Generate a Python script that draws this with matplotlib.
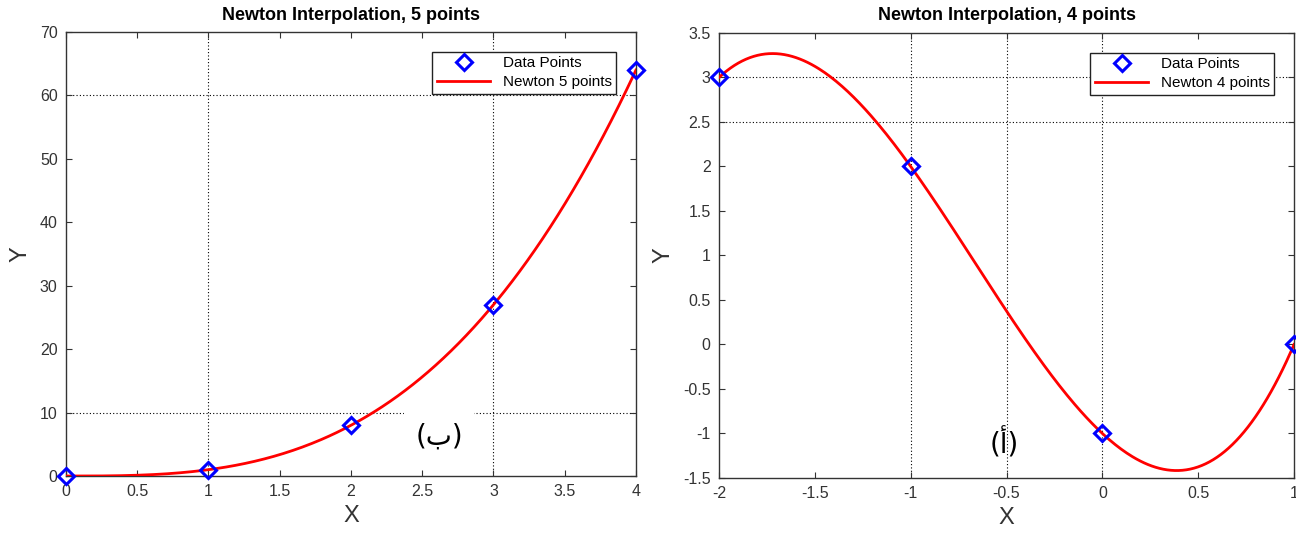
import numpy as np
import matplotlib
matplotlib.use('Agg')
import matplotlib.pyplot as plt

plt.rcParams['font.family'] = ['Liberation Sans', 'DejaVu Sans']

# data points of both panels
x5 = [0, 1, 2, 3, 4]
y5 = [0, 1, 8, 27, 64]
x4 = [-2, -1, 0, 1]
y4 = [3, 2, -1, 0]

# dotted grid lines that are visible in the picture
vgrid5 = [1, 3]
hgrid5 = [10, 60]
vgrid4 = [-1, -0.5, 0]
hgrid4 = [2.5, 3]


def newton_coef(x, y):
    x = np.asarray(x, float)
    c = np.asarray(y, float).copy()
    n = len(x)
    for j in range(1, n):
        c[j:] = (c[j:] - c[j - 1:-1]) / (x[j:] - x[:n - j])
    return c


def newton_eval(c, x, t):
    p = np.full_like(t, c[-1])
    for k in range(len(c) - 2, -1, -1):
        p = p * (t - x[k]) + c[k]
    return p


def panel(ax, xs, ys, vg, hg, title, lbl, xlim, ylim, xticks, yticks, note, note_xy, note_pad):
    t = np.linspace(xs[0], xs[-1], 300)
    c = newton_coef(xs, ys)
    for v in vg:
        ax.axvline(v, color='k', ls=(0, (1, 2)), lw=0.8, zorder=1)
    for h in hg:
        ax.axhline(h, color='k', ls=(0, (1, 2)), lw=0.8, zorder=1)
    ax.plot(xs, ys, 'D', mfc='none', mec='#0000ff', mew=2.2, ms=8, label='Data Points', zorder=4, clip_on=False)
    ax.plot(t, newton_eval(c, np.asarray(xs, float), t), color='#ff0000', lw=2, label=lbl, zorder=3)
    ax.set_xlim(*xlim)
    ax.set_ylim(*ylim)
    ax.set_xticks(xticks)
    ax.set_yticks(yticks)
    ax.set_xticklabels(['%g' % v for v in xticks])
    ax.set_yticklabels(['%g' % v for v in yticks])
    ax.tick_params(direction='in', top=True, right=True, length=4, labelsize=11.5,
                   colors='#333333', pad=6)
    for s in ax.spines.values():
        s.set_color('#333333')
        s.set_linewidth(1.0)
    ax.set_title(title, fontsize=13, fontweight='bold', pad=9)
    ax.set_xlabel('X', fontsize=17, color='#333333', labelpad=4)
    ax.set_ylabel('Y', fontsize=17, color='#333333', labelpad=6)
    box = None
    if note_pad:
        box = dict(facecolor='white', edgecolor='none', pad=note_pad)
    ax.text(note_xy[0], note_xy[1], note, fontsize=20, family=['DejaVu Sans'], ha='center', va='center',
            bbox=box, zorder=2)
    leg = ax.legend(loc='upper right', fontsize=11, fancybox=False, framealpha=1,
                    edgecolor='#222222', borderaxespad=1.3, handlelength=3.5, borderpad=0.3,
                    labelspacing=0.3)
    leg.get_frame().set_linewidth(1.0)


fig = plt.figure(figsize=(12.96, 5.41), dpi=100)
ax1 = fig.add_axes([0.0509, 0.1201, 0.4398, 0.8207])
ax2 = fig.add_axes([0.5548, 0.1165, 0.4437, 0.8226])

panel(ax1, x5, y5, vgrid5, hgrid5, 'Newton Interpolation, 5 points', 'Newton 5 points',
      (0, 4), (0, 70), np.arange(0, 4.01, 0.5), np.arange(0, 71, 10), '(ب)', (2.62, 6.3), 8)
panel(ax2, x4, y4, vgrid4, hgrid4, 'Newton Interpolation, 4 points', 'Newton 4 points',
      (-2, 1), (-1.5, 3.5), np.arange(-2, 1.01, 0.5), np.arange(-1.5, 3.51, 0.5), '(أ)', (-0.51, -1.12), 0)

fig.savefig('out.png', dpi=100)
